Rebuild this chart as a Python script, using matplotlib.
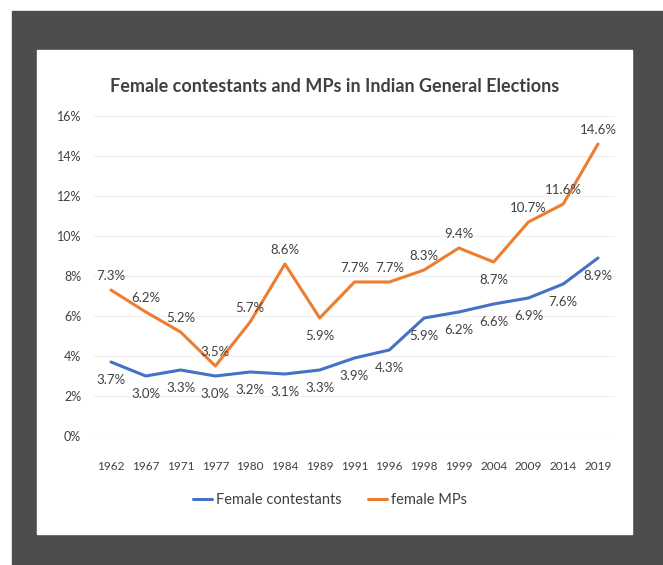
import matplotlib.pyplot as plt
from matplotlib.patches import Rectangle

years = ['1962', '1967', '1971', '1977', '1980', '1984', '1989', '1991',
         '1996', '1998', '1999', '2004', '2009', '2014', '2019']
contestants = [3.7, 3.0, 3.3, 3.0, 3.2, 3.1, 3.3, 3.9, 4.3, 5.9, 6.2, 6.6, 6.9, 7.6, 8.9]
mps = [7.3, 6.2, 5.2, 3.5, 5.7, 8.6, 5.9, 7.7, 7.7, 8.3, 9.4, 8.7, 10.7, 11.6, 14.6]
# label above (1) or below (-1) the point for the MP series
mp_side = [1, 1, 1, 1, 1, 1, -1, 1, 1, 1, 1, -1, 1, 1, 1]

W, H = 663, 565
plt.rcParams['font.family'] = ['Lato', 'DejaVu Sans']
text_col = '#404040'
blue = '#4472C4'
orange = '#ED7D31'

fig = plt.figure(figsize=(W / 100, H / 100), dpi=100)
fig.patch.set_facecolor('white')


def px_rect(x0, y0, x1, y1, color):
    # rectangle given in pixel coords with origin at top-left
    fig.patches.append(Rectangle((x0 / W, 1 - y1 / H), (x1 - x0) / W, (y1 - y0) / H,
                                 transform=fig.transFigure, color=color, zorder=-10))


px_rect(12, 11, W, H, '#4d4d4d')
px_rect(37, 50, 632, 534, 'white')

ax = fig.add_axes([93.6 / W, 1 - 436 / H, (615.4 - 93.6) / W, 320 / H])
ax.set_facecolor('none')
x = list(range(len(years)))
ax.plot(x, contestants, color=blue, lw=2.2, label='Female contestants', solid_capstyle='round')
ax.plot(x, mps, color=orange, lw=2.2, label='female MPs', solid_capstyle='round')

ax.set_xlim(-0.5, len(years) - 0.5)
ax.set_ylim(0, 16)
ax.set_yticks(range(0, 17, 2))
ax.set_yticklabels(['%d%%' % v for v in range(0, 17, 2)])
ax.set_xticks(x)
ax.set_xticklabels(years)
ax.grid(axis='y', color='#efefef', lw=0.8)
ax.set_axisbelow(True)
for s in ax.spines.values():
    s.set_visible(False)
ax.tick_params(length=0, labelsize=8.5, labelcolor=text_col)
ax.tick_params(axis='x', pad=18)
ax.tick_params(axis='y', pad=9, labelsize=9)

for i, v in enumerate(contestants):
    ax.annotate('%.1f%%' % v, (i, v), xytext=(0, -13), textcoords='offset points',
                ha='center', va='center', fontsize=9.5, color=text_col)
for i, v in enumerate(mps):
    off = 10 if mp_side[i] > 0 else -13
    ax.annotate('%.1f%%' % v, (i, v), xytext=(0, off), textcoords='offset points',
                ha='center', va='center', fontsize=9.5, color=text_col)

fig.text(335 / W, 1 - 86 / H, 'Female contestants and MPs in Indian General Elections',
         ha='center', va='center', fontsize=13, fontweight='bold', color=text_col)

ax.legend(loc='center', bbox_to_anchor=(330 / W, 1 - 500 / H), bbox_transform=fig.transFigure,
          ncol=2, frameon=False, fontsize=10.5, handlelength=1.3, handletextpad=0.3,
          columnspacing=1.8, labelcolor=text_col)

fig.savefig('out.png', dpi=100)
